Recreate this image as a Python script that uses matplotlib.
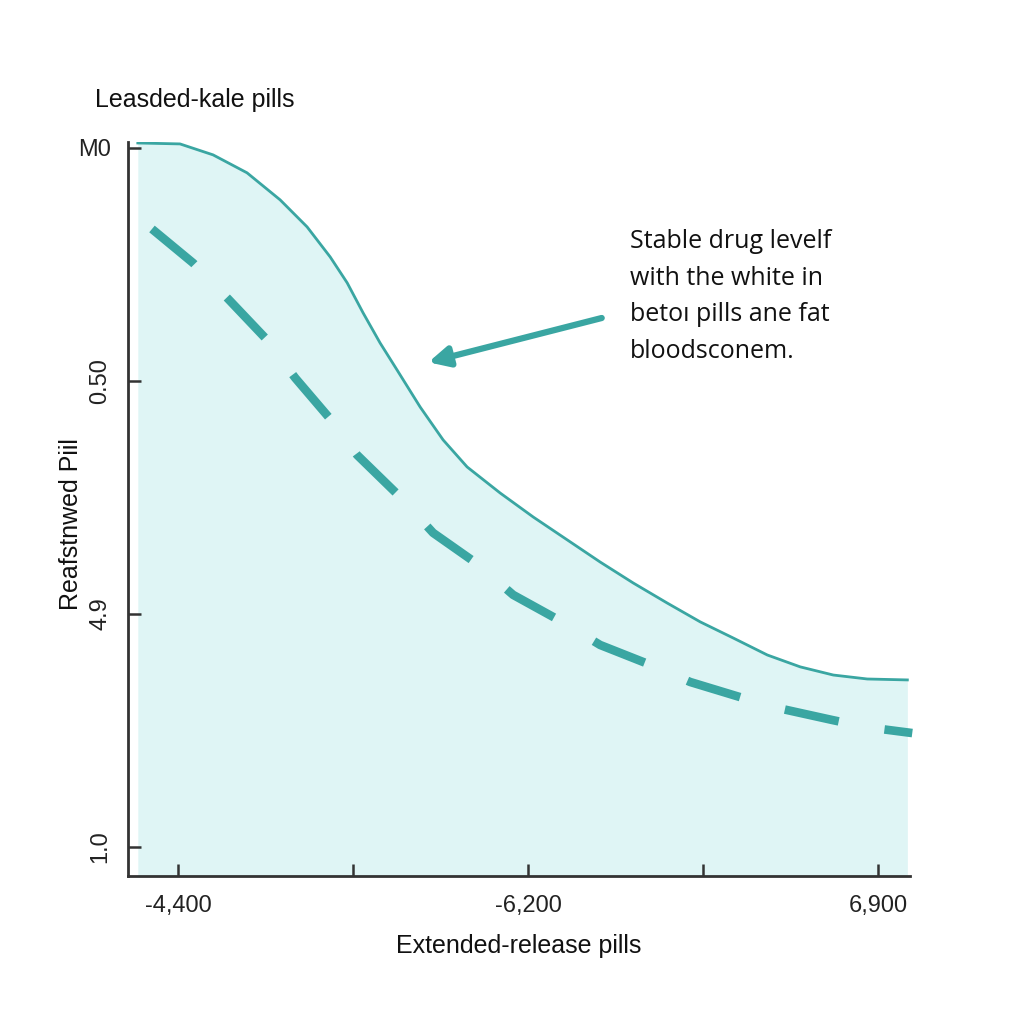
import numpy as np
import matplotlib.pyplot as plt

# -----------------------------
# DATA
# -----------------------------
x_tick_pos = [0, 1, 2, 3, 4]
x_tick_labels = ["-4,400", "", "-6,200", "", "6,900"]
y_tick_pos = [3, 2, 1, 0]
y_tick_labels = ["M0", "0.50", "4.9", "1.0"]

solid_x = [-0.23, 0.011, 0.200, 0.394, 0.583, 0.737, 0.869, 0.966, 1.057, 1.154,
           1.251, 1.383, 1.514, 1.651, 1.840, 2.029, 2.223, 2.411, 2.600, 2.794,
           2.983, 3.171, 3.366, 3.554, 3.743, 3.937, 4.166]
solid_y = [3.021, 3.017, 2.970, 2.893, 2.777, 2.661, 2.532, 2.421, 2.292, 2.163,
           2.047, 1.888, 1.747, 1.631, 1.519, 1.416, 1.318, 1.223, 1.133, 1.047,
           0.966, 0.897, 0.824, 0.773, 0.738, 0.721, 0.717]

dash_x = [-0.149, 0.086, 0.286, 0.497, 0.669, 0.869, 1.023, 1.269, 1.457, 1.709,
          1.914, 2.194, 2.411, 2.714, 2.926, 3.229, 3.423, 3.737, 3.926, 4.194]
dash_y = [2.652, 2.506, 2.352, 2.185, 2.013, 1.837, 1.682, 1.502, 1.348, 1.215,
          1.082, 0.966, 0.867, 0.777, 0.708, 0.639, 0.597, 0.545, 0.515, 0.489]

TEAL = "#3aa6a2"
FILL = "#dff5f5"
AXIS = "#333333"
NARROW = ["Liberation Sans", "DejaVu Sans"]

fig = plt.figure(figsize=(10.24, 10.24), dpi=100)
fig.patch.set_facecolor("white")
ax = fig.add_axes([0.125, 0.1445, 0.764, 0.717])
ax.set_xlim(-0.286, 4.183)
ax.set_ylim(-0.1245, 3.026)

ax.fill_between(solid_x, solid_y, -0.1245, color=FILL, linewidth=0, zorder=1)
ax.plot(solid_x, solid_y, color=TEAL, linewidth=2, zorder=3)
ax.plot(dash_x, dash_y, color=TEAL, linewidth=6.2, dashes=(6.4, 5.4),
        solid_capstyle="butt", zorder=3, clip_on=False)

# arrow pointing at curve
ax.annotate("", xy=(1.43, 2.08), xytext=(2.42, 2.27),
            arrowprops=dict(arrowstyle="-|>,head_length=1.2,head_width=0.6",
                            color=TEAL, lw=4.5, shrinkA=0, shrinkB=0))

fig.text(0.615, 0.776, "Stable drug levelf\nwith the white in\nbetoı pills ane fat\nbloodsconem.",
         fontsize=18, ha="left", va="top", linespacing=1.6,
         family=["Open Sans", "DejaVu Sans"], color="#111111")

fig.text(0.093, 0.902, "Leasded-kale pills", fontsize=18, ha="left", va="center",
         family=NARROW, color="#111111")
ax.set_xlabel("Extended-release pills", fontsize=18, family=NARROW, labelpad=12,
              color="#111111")
ax.set_ylabel("Reafstnwed Piil", fontsize=18, family=NARROW, color="#111111")
ax.yaxis.set_label_coords(-0.058, 0.48)

for s in ["top", "right"]:
    ax.spines[s].set_visible(False)
for s in ["left", "bottom"]:
    ax.spines[s].set_color(AXIS)
    ax.spines[s].set_linewidth(2)

ax.set_xticks(x_tick_pos)
ax.set_xticklabels(x_tick_labels, family=NARROW, fontsize=17)
ax.set_yticks(y_tick_pos)
ax.set_yticklabels(y_tick_labels, family=NARROW, fontsize=17)
for lbl in ax.get_yticklabels()[1:]:
    lbl.set_rotation(90)
    lbl.set_va("center")
ax.tick_params(axis="both", direction="in", length=9, width=1.8, color=AXIS,
               labelcolor="#222222")
ax.tick_params(axis="x", pad=14)
ax.tick_params(axis="y", pad=12)

fig.savefig("out.png", dpi=100)
